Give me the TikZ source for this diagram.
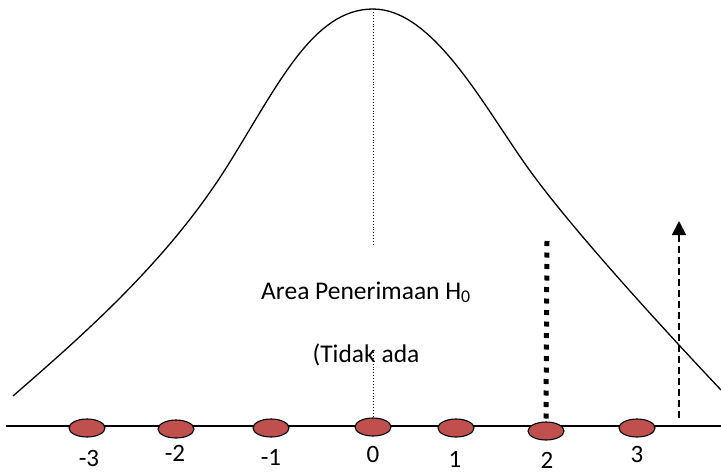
\documentclass[tikz,border=0pt]{standalone}
\usepackage{fontspec}
\setmainfont{Carlito}
\usetikzlibrary{arrows.meta,shapes.geometric}
\definecolor{dotred}{HTML}{C0504D}
\tikzset{
  dot/.style={ellipse, draw=black, line width=1.1pt, fill=dotred, minimum width=36pt, minimum height=18pt, inner sep=0pt},
  num/.style={font=\fontsize{25}{27}\selectfont, inner sep=0pt},
  lbl/.style={font=\fontsize{25.5}{27}\selectfont, inner sep=0pt},
}
\begin{document}
\begin{tikzpicture}[x=1pt,y=-1pt]
\useasboundingbox (0,0) rectangle (721,475);
% curve
\draw[line width=1.3pt] (13,396) .. controls (83,335) and (168,261) .. (228,165)
  .. controls (278,85) and (313,9) .. (373,9)
  .. controls (433,9) and (483,105) .. (528,168)
  .. controls (573,231) and (671,337) .. (721,390);
% coordinates
\coordinate (top) at (373,9);
\coordinate (topend) at (373,246);
\coordinate (midstart) at (373,352);
\coordinate (t2) at (547,241);
\coordinate (ar0) at (679,418);
\coordinate (ar1) at (679,221);
\coordinate (axL) at (6,426);
\coordinate (axR) at (721,426);
% dotted center line
\draw[dotted, line width=0.9pt] (top) -- (topend);
% axis
\draw[line width=1.3pt] (axL) -- (axR);
% dots
\node[dot] (d1) at (87,428) {};
\node[dot] (d2) at (176,429) {};
\node[dot] (d3) at (271,428) {};
\node[dot] (d4) at (373,427) {};
\node[dot] (d5) at (456,428) {};
\node[dot] (d6) at (546,431) {};
\node[dot] (d7) at (637,428) {};
\draw[dotted, line width=0.9pt] (midstart) -- (d4.north);
% thick dotted
\draw[line width=5pt, dash pattern=on 5pt off 6.5pt] (t2) -- (d6.north);
% dashed arrow
\draw[line width=1.8pt, dash pattern=on 7pt off 4pt, -{Triangle[width=14pt,length=14pt]}] (ar0) -- (ar1);
% labels
\node[num] (l1) at (89,458) {-3};
\node[num] (l2) at (175,453) {-2};
\node[num] (l3) at (271,457) {-1};
\node[num] (l4) at (373,454) {0};
\node[num] (l5) at (455,459) {1};
\node[num] (l6) at (547,460) {2};
\node[num] (l7) at (637,454) {3};
\node[lbl, anchor=base] (area) at (366,299) {Area Penerimaan H\textsubscript{0}};
\node[lbl, anchor=base] (tidak) at (366,362) {(Tidak ada};
\end{tikzpicture}
\end{document}
